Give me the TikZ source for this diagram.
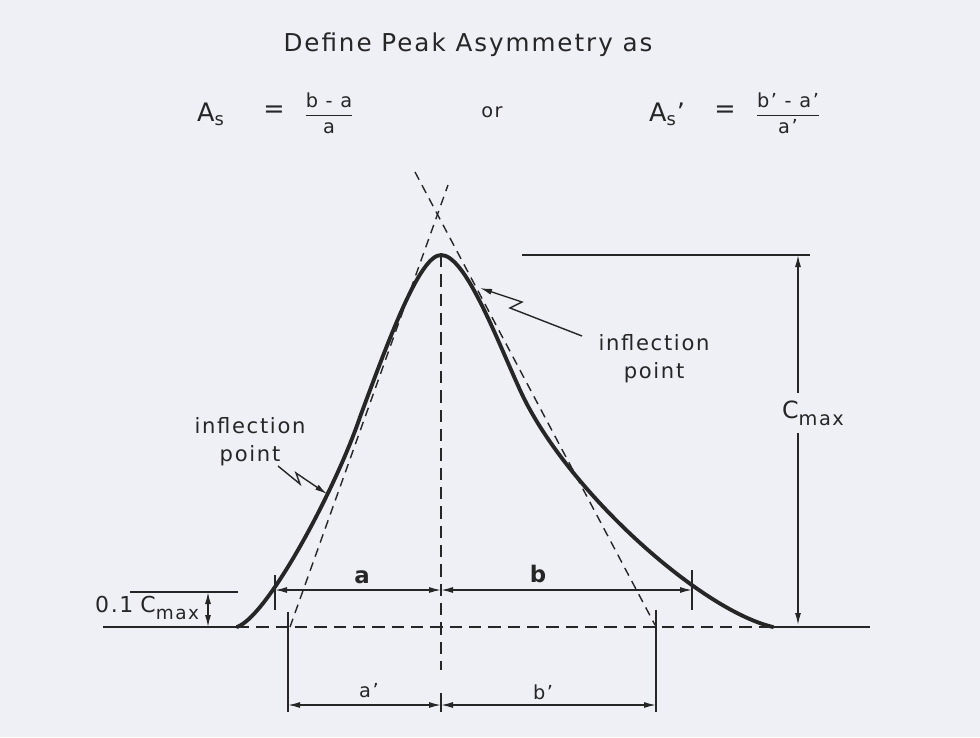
\documentclass[tikz,border=0pt]{standalone}
\usepackage{amsmath}
\usepackage{fontspec}
\setmainfont{DejaVu Sans}[LetterSpace=8]
\usetikzlibrary{
  arrows.meta,
  positioning,
  calc
}
\definecolor{paper}{HTML}{EEF0F6}
\definecolor{ink}{HTML}{262626}
\newcommand{\maxsub}[1]{\raisebox{-0.55ex}{\fontsize{#1}{#1}\selectfont max}}
\tikzset{
  txt/.style={text=ink, inner sep=0pt, font=\fontsize{12}{14}\selectfont},
  titletxt/.style={txt, font=\fontsize{14}{16}\selectfont},
  eqtxt/.style={txt, font=\fontsize{14.5}{16}\selectfont},
  fractxt/.style={txt, font=\fontsize{11}{13}\selectfont},
  dimtxt/.style={txt, font=\fontsize{11}{13}\selectfont},
  boldtxt/.style={txt, font=\fontsize{13}{15}\selectfont\bfseries},
  peakline/.style={draw=ink, line width=2.2pt, line cap=round, line join=round},
  tangentline/.style={draw=ink, line width=0.8pt, dash pattern=on 5pt off 3.5pt},
  axisdash/.style={draw=ink, line width=0.8pt, dash pattern=on 7pt off 4pt},
  solidline/.style={draw=ink, line width=0.8pt},
  dimline/.style={solidline, {Latex[length=2.4mm, width=1.2mm]}-{Latex[length=2.4mm, width=1.2mm]}},
  uparrow/.style={solidline, -{Latex[length=2.4mm, width=1.2mm]}},
  zigzag/.style={solidline, line join=miter, -{Latex[length=2.4mm, width=1.2mm]}}
}

\begin{document}
\begin{tikzpicture}[x=0.02cm, y=-0.02cm]
  \fill[paper] (0,0) rectangle (980,737);

  % heading and definitions
  \node[titletxt] (title) at (468,45) {Define Peak Asymmetry as};
  \node[eqtxt] (asL) at (211,114) {A\textsubscript{s}};
  \node[eqtxt] (eqL) at (274,112) {=};
  \node[fractxt] (fracL) at (329,113) {$\displaystyle\frac{\text{b - a}}{\text{a}}$};
  \node[fractxt] (orw) at (492,112) {or};
  \node[eqtxt] (asR) at (667,114) {A\textsubscript{s}'};
  \node[eqtxt] (eqR) at (725,112) {=};
  \node[fractxt] (fracR) at (788,113) {$\displaystyle\frac{\text{b' - a'}}{\text{a'}}$};

  % key points
  \coordinate (peak) at (441,255);
  \coordinate (lfoot) at (237,627);
  \coordinate (rfoot) at (773,627);
  \coordinate (linfl) at (360,417);
  \coordinate (rinfl) at (520,390);
  \coordinate (axisL) at (103,627);
  \coordinate (axisR) at (870,627);
  \coordinate (tanLlo) at (290,627);
  \coordinate (tanLhi) at (448,185);
  \coordinate (tanRhi) at (415,172);
  \coordinate (tanRlo) at (655,625);

  % baseline and centre line
  \draw[solidline] (axisL) -- (lfoot);
  \draw[axisdash] (lfoot) -- (rfoot);
  \draw[solidline] (rfoot) -- (axisR);
  \draw[axisdash] (peak) -- (441,670);

  % tangents
  \draw[tangentline] (tanLlo) -- (tanLhi);
  \draw[tangentline] (tanRhi) -- (tanRlo);

  % peak
  \draw[peakline] (lfoot) .. controls (268,616) and (336,488) .. (linfl)
    .. controls (390,336) and (420,255) .. (peak)
    .. controls (465,255) and (495,335) .. (rinfl)
    .. controls (565,489) and (700,610) .. (rfoot);

  % C max
  \coordinate (cmTop) at (798,255);
  \coordinate (cmBot) at (798,625);
  \draw[solidline] (522,255) -- (810,255);
  \node[txt, font=\fontsize{13.5}{15}\selectfont, inner sep=4pt] (cmax) at (813,413) {C\maxsub{11}};
  \draw[uparrow] (cmax.north -| cmTop) -- (cmTop);
  \draw[uparrow] (cmax.south -| cmBot) -- (cmBot);

  % 0.1 C max
  \draw[solidline] (130,592) -- (238,592);
  \draw[dimline] (208,592) -- (208,627);
  \node[txt, font=\fontsize{12.5}{14}\selectfont] (tenth) at (147,608) {0.1\hspace{4pt}C\maxsub{10.5}};

  % widths at 0.1 C max
  \coordinate (aL) at (275,590);
  \coordinate (abM) at (441,590);
  \coordinate (bR) at (692,590);
  \draw[solidline] (275,575) -- (275,610);
  \draw[solidline] (692,570) -- (692,610);
  \draw[dimline] (aL) -- (abM);
  \draw[dimline] (abM) -- (bR);
  \node[boldtxt] (alab) at (362,577) {a};
  \node[boldtxt] (blab) at (538,574) {b};

  % widths from tangents
  \coordinate (apL) at (288,705);
  \coordinate (apM) at (441,705);
  \coordinate (bpR) at (656,705);
  \draw[solidline] (288,612) -- (288,712);
  \draw[solidline] (656,610) -- (656,712);
  \draw[solidline] (441,693) -- (441,712);
  \draw[dimline] (apL) -- (apM);
  \draw[dimline] (apM) -- (bpR);
  \node[dimtxt] (aplab) at (369,691) {a'};
  \node[dimtxt] (bplab) at (543,692) {b'};

  % inflection points
  \node[txt, align=center] (inflR) at (654,359) {inflection\\[2pt]point};
  \draw[zigzag] (582,336) -- (510,308) -- (522,302) -- (480,288);
  \node[txt, align=center] (inflL) at (250,442) {inflection\\[2pt]point};
  \draw[zigzag] (278,466) -- (300,484) -- (296,473) -- (327,494);
\end{tikzpicture}
\end{document}
